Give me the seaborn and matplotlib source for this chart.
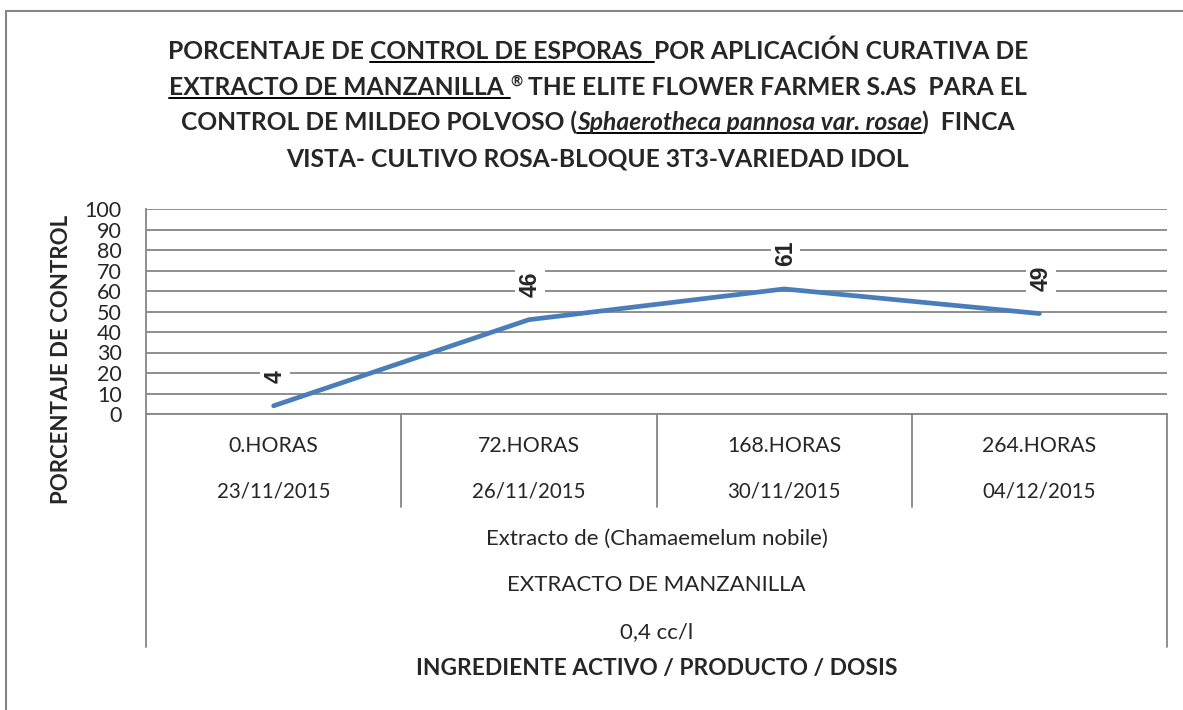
import numpy as np
import pandas as pd
import matplotlib
matplotlib.use("Agg")
import matplotlib.pyplot as plt
import matplotlib.transforms as mtransforms
from matplotlib.lines import Line2D
from matplotlib.patches import Rectangle
import seaborn as sns

# Datos del grafico
horas = ["0.HORAS", "72.HORAS", "168.HORAS", "264.HORAS"]
fechas = ["23/11/2015", "26/11/2015", "30/11/2015", "04/12/2015"]
control = [4, 46, 61, 49]
grupos = ["Extracto de (Chamaemelum nobile)", "EXTRACTO DE MANZANILLA", "0,4 cc/l"]
y_ticks = list(range(0, 101, 10))

W, H = 1183, 710
GRIS = "#868686"
AZUL = "#4a7ebb"

sns.set_theme(style="white")
plt.rcParams["font.family"] = ["Lato", "DejaVu Sans"]

fig = plt.figure(figsize=(W / 100, H / 100), dpi=100)


def fx(px):
    return px / W


def fy(py):
    return 1 - py / H


# borde exterior del grafico
fig.patches.append(Rectangle((fx(6), fy(900)), fx(1400), fy(11) - fy(900), transform=fig.transFigure,
                             fill=False, ec=GRIS, lw=1.5, clip_on=False))

ax = fig.add_axes([fx(146), fy(414), fx(1167) - fx(146), (414 - 209) / H])
df = pd.DataFrame({"tiempo": horas, "control": control})
sns.lineplot(data=df, x="tiempo", y="control", color=AZUL, lw=3.4, ax=ax, sort=False,
             solid_capstyle="round")

ax.set_xlim(-0.5, 3.5)
ax.set_ylim(0, 100)
ax.set_yticks(y_ticks)
ax.set_xticks(range(len(horas)))
ax.set_xticklabels([])
ax.tick_params(axis="x", length=0)
ax.tick_params(axis="y", length=6.5, width=1.3, color=GRIS, direction="out", labelsize=15.5, pad=11)
ax.yaxis.grid(True, color=GRIS, lw=1.3)
ax.set_axisbelow(True)
for s in ["top", "right"]:
    ax.spines[s].set_visible(False)
for s in ["left", "bottom"]:
    ax.spines[s].set_color(GRIS)
    ax.spines[s].set_linewidth(1.3)
ax.set_xlabel("")
ax.set_ylabel("")

# etiquetas de datos
for i, v in enumerate(control):
    ax.annotate(str(v), (i, v), xytext=(1, 16.5), textcoords="offset points", rotation=90,
                ha="center", va="bottom", fontsize=16.5, fontweight="bold",
                family=["Liberation Sans", "DejaVu Sans"],
                bbox=dict(fc="white", ec="none", pad=2.5))

# tabla de categorias bajo el eje
tr = mtransforms.blended_transform_factory(ax.transData, fig.transFigure)
for i, (h, f) in enumerate(zip(horas, fechas)):
    ax.text(i, fy(446), h, transform=tr, ha="center", va="center", fontsize=15.3)
    ax.text(i, fy(492), f, transform=tr, ha="center", va="center", fontsize=14.8)
for xb in np.arange(-0.5, len(horas), 1.0):
    fondo = 647 if xb in (-0.5, len(horas) - 0.5) else 507
    ax.add_line(Line2D([xb, xb], [fy(414), fy(fondo)], transform=tr, color=GRIS, lw=1.3, clip_on=False))

trg = mtransforms.blended_transform_factory(ax.transAxes, fig.transFigure)
for g, yp in zip(grupos, [539, 585, 632]):
    ax.text(0.5, fy(yp), g, transform=trg, ha="center", va="center", fontsize=16)
ax.text(0.5, fy(668), "INGREDIENTE ACTIVO / PRODUCTO / DOSIS", transform=trg, ha="center", va="center",
        fontsize=16.4, fontweight="bold")

fig.text(fx(62), fy(359), "PORCENTAJE DE CONTROL", rotation=90, ha="center", va="center",
         fontsize=16, fontweight="bold")

# titulo con partes subrayadas
TS = 17.7
title_lines = [
    [("PORCENTAJE DE ", "normal", False, TS), ("CONTROL DE ESPORAS  ", "normal", True, TS),
     ("POR APLICACIÓN CURATIVA DE", "normal", False, TS)],
    [("EXTRACTO DE MANZANILLA ", "normal", True, TS), ("®", "normal", False, TS * 0.6),
     (" THE ELITE FLOWER FARMER S.AS  PARA EL", "normal", False, TS)],
    [("CONTROL DE MILDEO POLVOSO (", "normal", False, TS),
     ("Sphaerotheca pannosa var. rosae", "italic", True, TS), (")  FINCA", "normal", False, TS)],
    [("VISTA- CULTIVO ROSA-BLOQUE 3T3-VARIEDAD IDOL", "normal", False, TS)],
]
baselines = [59, 95, 130, 166]
renderer = fig.canvas.get_renderer()


def ancho(txt, style, size):
    t1 = fig.text(0, 0, "|" + txt + "|", fontsize=size, fontweight="bold", style=style)
    t2 = fig.text(0, 0, "||", fontsize=size, fontweight="bold", style=style)
    w = t1.get_window_extent(renderer).width - t2.get_window_extent(renderer).width
    t1.remove()
    t2.remove()
    return w


for segs, bl in zip(title_lines, baselines):
    widths = [ancho(t, st, sz) for t, st, ul, sz in segs]
    x = 598 - sum(widths) / 2
    for (t, st, ul, sz), w in zip(segs, widths):
        lead = len(t) - len(t.lstrip())
        x0 = x + (ancho(" " * lead, st, sz) if lead else 0)
        yb = bl - (9 if sz < TS else 0)
        fig.text(fx(x0), fy(yb), t.strip(), fontsize=sz, fontweight="bold", style=st,
                 ha="left", va="baseline")
        if ul:
            fig.add_artist(Line2D([fx(x), fx(x + w)], [fy(bl + 3), fy(bl + 3)], color="black",
                                  lw=1.4, transform=fig.transFigure))
        x += w

fig.savefig("out.png", dpi=100, facecolor="white")
